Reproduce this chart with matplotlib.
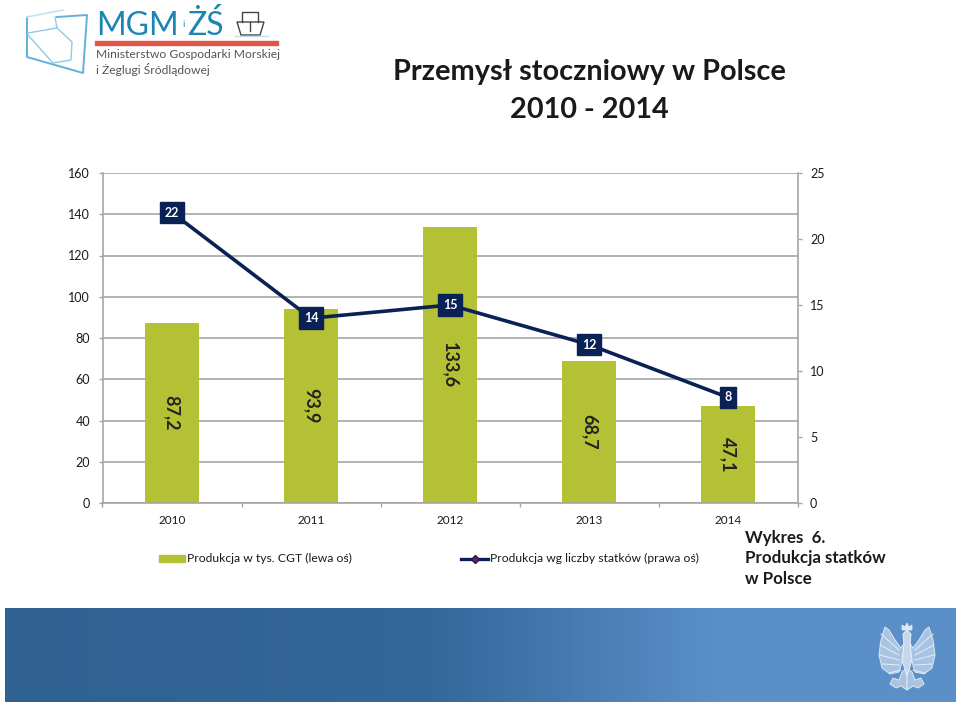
import numpy as np
import matplotlib
matplotlib.use("Agg")
import matplotlib.pyplot as plt
from matplotlib.colors import LinearSegmentedColormap
from matplotlib.patches import Polygon, Rectangle

plt.rcParams['font.family'] = ['Lato', 'DejaVu Sans']

# Chart data
years = ["2010", "2011", "2012", "2013", "2014"]
cgt = [87.2, 93.9, 133.6, 68.7, 47.1]
cgt_labels = ["87,2", "93,9", "133,6", "68,7", "47,1"]
ships = [22, 14, 15, 12, 8]
left_ticks = [0, 20, 40, 60, 80, 100, 120, 140, 160]
right_ticks = [0, 5, 10, 15, 20, 25]

W, H = 960, 704
GREEN = "#b5c135"
NAVY = "#0a2155"
GRID = "#a6a6a6"
TEXT = "#1a1a1a"
LOGO = "#1c86b3"

fig = plt.figure(figsize=(W / 100, H / 100), dpi=100)


def px_box(x0, y0, x1, y1):
    # pixel box measured from the top left -> figure fractions
    return [x0 / W, 1 - y1 / H, (x1 - x0) / W, (y1 - y0) / H]


ax = fig.add_axes(px_box(102.5, 173, 797.5, 503))
x_pos = np.arange(len(years))
ax.set_xlim(-0.5, 4.5)
ax.set_ylim(0, 160)
ax.bar(x_pos, cgt, width=0.385, color=GREEN, zorder=2)
ax.set_yticks(left_ticks)
ax.set_xticks(np.arange(-0.5, 5, 1))
ax.set_xticklabels([])
ax.grid(axis="y", color=GRID, lw=1.2, zorder=1)
ax.tick_params(axis="x", length=3, color=GRID, width=1)
ax.tick_params(axis="y", length=3, color=GRID, width=1, labelsize=9,
               labelcolor=TEXT, pad=6)
for s in ["top", "right"]:
    ax.spines[s].set_visible(False)
for s in ["left", "bottom"]:
    ax.spines[s].set_color(GRID)
    ax.spines[s].set_linewidth(1.2)

# category labels sit at the bar centres
for x, y in zip(x_pos, years):
    ax.annotate(y, (x, 0), xytext=(0, -12.5), textcoords="offset points",
                ha="center", va="center", fontsize=8.5, color=TEXT)

# rotated value labels inside the bars
for x, v, lab in zip(x_pos, cgt, cgt_labels):
    ax.annotate(lab, (x, v / 2), rotation=-90, ha="center", va="center",
                fontsize=13, fontweight="bold", color="#222222", zorder=6)

ax2 = ax.twinx()
ax2.set_ylim(0, 25)
ax2.set_yticks(right_ticks)
ax2.tick_params(axis="y", length=3, color=GRID, width=1, labelsize=9,
                labelcolor=TEXT, pad=6)
for s in ["top", "left", "bottom"]:
    ax2.spines[s].set_visible(False)
ax2.spines["right"].set_color(GRID)
ax2.spines["right"].set_linewidth(1.2)
ax2.plot(x_pos, ships, color=NAVY, lw=2.6, zorder=4)
for x, v in zip(x_pos, ships):
    ax2.text(x, v, str(v), ha="center", va="center", fontsize=9,
             fontweight="bold", color="white", zorder=5,
             bbox=dict(boxstyle="square,pad=0.38", fc=NAVY, ec=NAVY))

# Title
fig.text(589 / W, 1 - 72 / H, "Przemysł stoczniowy w Polsce", ha="center",
         va="center", fontsize=20.8, fontweight="bold", color=TEXT)
fig.text(589 / W, 1 - 110 / H, "2010 - 2014", ha="center", va="center",
         fontsize=20.8, fontweight="bold", color=TEXT)

# Everything outside the plot goes on a pixel-sized background axes
bg = fig.add_axes([0, 0, 1, 1], zorder=-1)

# Footer band
cmap = LinearSegmentedColormap.from_list(
    "band", [(0, "#2f6191"), (0.45, "#34679a"), (0.75, "#5b8fc8"), (1, "#5b8fc8")])
bg.imshow(np.linspace(0, 1, 256)[None, :], extent=(5, 956, 702, 608), cmap=cmap,
          aspect="auto", zorder=0)
bg.set_xlim(0, W)
bg.set_ylim(H, 0)
bg.axis("off")

# Legend
bg.add_patch(Rectangle((159, 555), 26, 7, color=GREEN))
bg.text(187, 558.5, "Produkcja w tys. CGT (lewa oś)", fontsize=8.7, va="center", color=TEXT)
bg.plot([461, 488], [558.5, 558.5], color=NAVY, lw=2.4)
bg.plot([474.5], [558.5], marker="D", ms=4, color="#7a1f3d", mec=NAVY)
bg.text(490, 558.5, "Produkcja wg liczby statków (prawa oś)", fontsize=8.7, va="center", color=TEXT)

# Side note
bg.text(745, 538, "Wykres  6.", fontsize=12.2, fontweight="bold", va="center", color=TEXT)
bg.text(745, 558, "Produkcja statków", fontsize=12.2, fontweight="bold", va="center", color=TEXT)
bg.text(745, 579, "w Polsce", fontsize=12.2, fontweight="bold", va="center", color=TEXT)

# Eagle, rough outline drawn for one side and mirrored
cx = 907
wing = [(2, 642), (6, 648), (12, 640), (18, 630), (22, 627), (26, 640), (28, 655),
        (25, 668), (17, 674), (8, 672), (5, 662)]
feathers = [[(8, 650), (26, 634)], [(8, 655), (27, 645)], [(8, 660), (27, 655)],
            [(8, 665), (25, 664)], [(6, 670), (18, 673)]]
tail = [(0, 668), (5, 672), (8, 680), (14, 678), (17, 684), (11, 688), (6, 686), (0, 690)]
for sign in (-1, 1):
    bg.add_patch(Polygon([(cx + sign * x, y) for x, y in wing], closed=True,
                         fc="#a9c4e2", ec="#dce8f5", lw=0.7, zorder=1))
    bg.add_patch(Polygon([(cx + sign * x, y) for x, y in tail], closed=True,
                         fc="#a9c4e2", ec="#dce8f5", lw=0.7, zorder=1))
    for f in feathers:
        bg.plot([cx + sign * f[0][0], cx + sign * f[1][0]], [f[0][1], f[1][1]],
                color="#e4edf7", lw=0.7, zorder=2)
body = [(903, 634), (907, 630), (911, 634), (910, 645), (912, 660), (907, 676), (902, 660), (904, 645)]
bg.add_patch(Polygon(body, closed=True, fc="#c5d7ec", ec="#e8eff7", lw=0.7, zorder=3))
crown = [(902, 630), (902, 625), (905, 627), (907, 623), (909, 627), (912, 625), (912, 630)]
bg.add_patch(Polygon(crown, closed=True, fc="#dce8f5", ec="#e8eff7", lw=0.5, zorder=3))

# Logo
outer = [(57, 17), (87, 15), (83, 73), (27, 57), (27, 17), (63, 10)]
bg.plot(*zip(*outer[:5]), color="#5fb3d4", lw=1.4)
bg.plot(*zip(*outer[4:]), color="#c5e3ee", lw=1.2)
bg.plot(*zip(*[(55, 17), (57, 28), (72, 42), (71, 60), (53, 63), (28, 35)]), color="#8fcbe0", lw=1)
bg.plot([28, 57], [33, 28], color="#8fcbe0", lw=1)
bg.text(96, 35, "MGM", fontsize=23, color=LOGO, va="baseline")
bg.text(182, 27, "i", fontsize=7, color=LOGO, va="baseline")
bg.text(187, 35, "ŻŚ", fontsize=23, color=LOGO, va="baseline")
bg.add_patch(Polygon([(237, 22), (264, 22), (260, 35), (241, 35)], closed=True, fc="white", ec="#444444", lw=1))
bg.plot([242, 242, 258, 258], [22, 12, 12, 22], color="#444444", lw=1)
bg.plot([250, 250], [22, 31], color="#444444", lw=1)
bg.plot([235, 268], [36, 36], color="#bfe0ea", lw=1)
bg.add_patch(Rectangle((95, 41), 183, 4, color="#e0574a"))
bg.text(96, 54, "Ministerstwo Gospodarki Morskiej", fontsize=8.7, color="#555555", va="center")
bg.text(96, 69, "i Żeglugi Śródlądowej", fontsize=8.7, color="#555555", va="center")

fig.savefig("out.png", dpi=100)
